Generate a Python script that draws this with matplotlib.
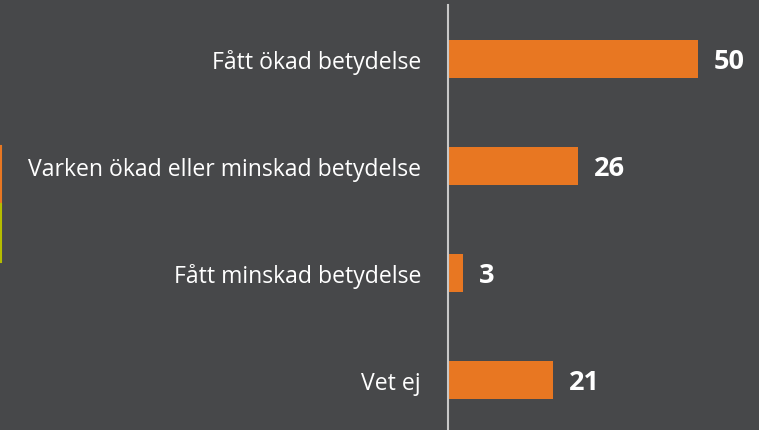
import matplotlib
matplotlib.use("Agg")
import matplotlib.pyplot as plt

categories = ["Fått ökad betydelse", "Varken ökad eller minskad betydelse",
              "Fått minskad betydelse", "Vet ej"]
values = [50, 26, 3, 21]

BG = "#47484A"
ORANGE = "#E87722"

W, H = 759, 431
fig = plt.figure(figsize=(W/100, H/100), dpi=100, facecolor=BG)
left, right, top, bottom = 448, 759, 6, 431
ax = fig.add_axes([left/W, 1-bottom/H, (right-left)/W, (bottom-top)/H])
ax.set_facecolor(BG)

ypos = list(range(len(categories)))
ax.barh(ypos, values, height=0.355, color=ORANGE, zorder=2)
ax.set_xlim(0, (right-left)/5)
ax.set_ylim(3.47, -0.5)

for y, v in zip(ypos, values):
    ax.text(v + 3.2, y + 0.02, str(v), va="center", ha="left", color="white",
            fontsize=19.5, fontweight="bold", family="Open Sans")

ax.set_yticks(ypos)
ax.set_yticklabels(categories, family="Open Sans", fontsize=16.6, color="white")
ax.tick_params(axis="y", length=0, pad=19.5)
ax.set_xticks([])
for s in ["top", "right", "bottom"]:
    ax.spines[s].set_visible(False)
ax.spines["left"].set_color("#C8C8C8")
ax.spines["left"].set_linewidth(1.5)

# left edge accent lines
fig.add_artist(plt.Line2D([0.75/W, 0.75/W], [1-147/H, 1-205/H], color=ORANGE, lw=1.5,
                          transform=fig.transFigure))
fig.add_artist(plt.Line2D([0.75/W, 0.75/W], [1-205/H, 1-263/H], color="#B5BD00", lw=1.5,
                          transform=fig.transFigure))

fig.savefig("out.png", dpi=100, facecolor=BG)
